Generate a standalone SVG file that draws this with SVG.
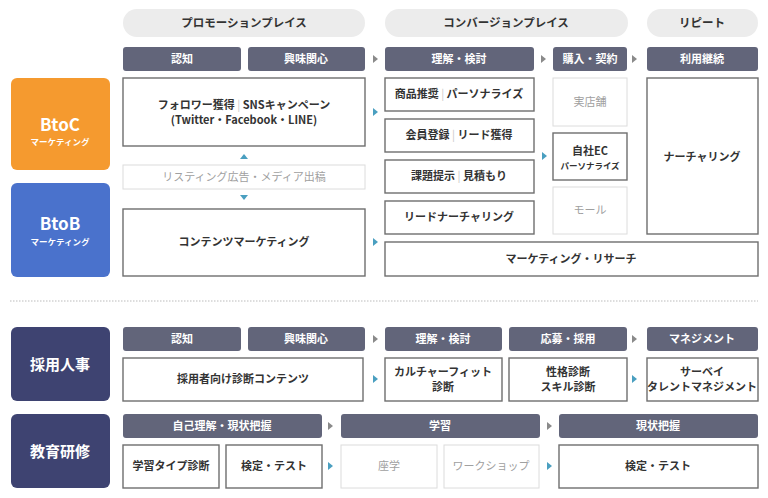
<svg xmlns="http://www.w3.org/2000/svg" width="768" height="498" viewBox="0 0 768 498">
<defs>
<style>
text{font-family:"Noto Sans CJK JP","Noto Sans",sans-serif;font-weight:bold;text-anchor:middle;}
.pill{fill:#ececec;}
.pt{font-size:11.5px;fill:#333;}
.hdr{fill:#62657a;}
.ht{font-size:11px;fill:#fff;}
.box{fill:#fff;stroke:#6e6e6e;stroke-width:1.4;}
.lbox{fill:#fff;stroke:#dcdcdc;stroke-width:1;}
.bt{font-size:11px;fill:#333;}
.st{font-size:8.5px;fill:#333;}
.lt{font-size:11px;fill:#a0a0a0;font-weight:normal;}
.sep{fill:#c8c8c8;font-weight:normal;}
.ga{fill:#8a8a8a;}
.ta{fill:#4a9fc0;}
.big{font-size:17px;fill:#fff;}
.sub{font-size:8.5px;fill:#fff;}
.side{font-size:15px;fill:#fff;}
</style>
</defs>
<rect width="768" height="498" fill="#fff"/>

<g id="phases">
<rect class="pill" x="123" y="9" width="242" height="28" rx="14"/>
<text class="pt" x="244" y="27">プロモーションプレイス</text>
<rect class="pill" x="385" y="9" width="243" height="28" rx="14"/>
<text class="pt" x="506" y="27">コンバージョンプレイス</text>
<rect class="pill" x="647" y="9" width="111" height="28" rx="14"/>
<text class="pt" x="702" y="27">リピート</text>
</g>

<g id="headers-top">
<rect class="hdr" x="123" y="47" width="118" height="24" rx="3"/><text class="ht" x="182" y="63">認知</text>
<rect class="hdr" x="248" y="47" width="117" height="24" rx="3"/><text class="ht" x="306" y="63">興味関心</text>
<rect class="hdr" x="385" y="47" width="149" height="24" rx="3"/><text class="ht" x="459" y="63">理解・検討</text>
<rect class="hdr" x="553" y="47" width="74" height="24" rx="3"/><text class="ht" x="590" y="63">購入・契約</text>
<rect class="hdr" x="647" y="47" width="111" height="24" rx="3"/><text class="ht" x="702" y="63">利用継続</text>
</g>

<g id="btoc">
<rect x="11" y="78" width="99" height="92" rx="6" fill="#f59a2f"/>
<text x="60" y="131" class="big">BtoC</text>
<text x="60" y="145" class="sub">マーケティング</text>
</g>
<g id="btob">
<rect x="11" y="183" width="99" height="94" rx="6" fill="#4a72cc"/>
<text x="60" y="230" class="big">BtoB</text>
<text x="60" y="245" class="sub">マーケティング</text>
</g>

<g id="follower">
<rect class="box" x="123" y="78" width="242" height="68"/>
<text class="bt" x="244" y="109">フォロワー獲得<tspan class="sep"> | </tspan>SNSキャンペーン</text>
<text class="bt" x="244" y="124">(Twitter・Facebook・LINE)</text>
</g>
<g id="listing">
<rect class="lbox" x="123" y="165" width="242" height="24"/>
<text class="lt" x="244" y="181">リスティング広告・メディア出稿</text>
</g>
<g id="content-mkt">
<rect class="box" x="123" y="209" width="242" height="67"/>
<text class="bt" x="244" y="246">コンテンツマーケティング</text>
</g>

<g id="n-suggest"><rect class="box" x="385" y="78" width="149" height="33"/><text class="bt" x="459" y="98">商品推奨<tspan class="sep"> | </tspan>パーソナライズ</text></g>
<g id="n-member"><rect class="box" x="385" y="119" width="149" height="33"/><text class="bt" x="459" y="139">会員登録<tspan class="sep"> | </tspan>リード獲得</text></g>
<g id="n-issue"><rect class="box" x="385" y="160" width="149" height="33"/><text class="bt" x="459" y="180">課題提示<tspan class="sep"> | </tspan>見積もり</text></g>
<g id="n-lead"><rect class="box" x="385" y="201" width="149" height="33"/><text class="bt" x="459" y="221">リードナーチャリング</text></g>
<g id="n-research"><rect class="box" x="385" y="242" width="373" height="34"/><text class="bt" x="571" y="263">マーケティング・リサーチ</text></g>

<g id="n-store"><rect class="lbox" x="553" y="78" width="74" height="48"/><text class="lt" x="590" y="106">実店舗</text></g>
<g id="n-ec"><rect class="box" x="553" y="133" width="74" height="47"/><text class="bt" x="590" y="155">自社EC</text><text class="st" x="590" y="169">パーソナライズ</text></g>
<g id="n-mall"><rect class="lbox" x="553" y="187" width="74" height="47"/><text class="lt" x="590" y="214">モール</text></g>
<g id="n-nurture"><rect class="box" x="647" y="78" width="111" height="156"/><text class="bt" x="702" y="161">ナーチャリング</text></g>

<line x1="10" y1="301" x2="758" y2="301" stroke="#bbb" stroke-width="1" stroke-dasharray="1.5 1.5"/>

<g id="hr">
<rect x="11" y="327" width="99" height="74" rx="6" fill="#3e4371"/>
<text x="60" y="370" class="side">採用人事</text>
</g>
<g id="headers-hr">
<rect class="hdr" x="123" y="327" width="118" height="24" rx="3"/><text class="ht" x="182" y="343">認知</text>
<rect class="hdr" x="248" y="327" width="117" height="24" rx="3"/><text class="ht" x="306" y="343">興味関心</text>
<rect class="hdr" x="385" y="327" width="117" height="24" rx="3"/><text class="ht" x="443" y="343">理解・検討</text>
<rect class="hdr" x="509" y="327" width="118" height="24" rx="3"/><text class="ht" x="568" y="343">応募・採用</text>
<rect class="hdr" x="647" y="327" width="111" height="24" rx="3"/><text class="ht" x="702" y="343">マネジメント</text>
</g>
<g id="n-hr1"><rect class="box" x="123" y="358" width="240" height="43"/><text class="bt" x="243" y="383">採用者向け診断コンテンツ</text></g>
<g id="n-hr2"><rect class="box" x="385" y="358" width="117" height="43"/><text class="bt" x="443" y="376">カルチャーフィット</text><text class="bt" x="443" y="391">診断</text></g>
<g id="n-hr3"><rect class="box" x="509" y="358" width="118" height="43"/><text class="bt" x="568" y="376">性格診断</text><text class="bt" x="568" y="391">スキル診断</text></g>
<g id="n-hr4"><rect class="box" x="647" y="358" width="111" height="43"/><text class="bt" x="702" y="376">サーベイ</text><text class="bt" x="702" y="391">タレントマネジメント</text></g>

<g id="edu">
<rect x="11" y="414" width="99" height="74" rx="6" fill="#3e4371"/>
<text x="60" y="457" class="side">教育研修</text>
</g>
<g id="headers-edu">
<rect class="hdr" x="123" y="414" width="199" height="24" rx="3"/><text class="ht" x="222" y="430">自己理解・現状把握</text>
<rect class="hdr" x="341" y="414" width="199" height="24" rx="3"/><text class="ht" x="440" y="430">学習</text>
<rect class="hdr" x="559" y="414" width="199" height="24" rx="3"/><text class="ht" x="658" y="430">現状把握</text>
</g>
<g id="n-edu1"><rect class="box" x="123" y="445" width="96" height="43"/><text class="bt" x="171" y="470">学習タイプ診断</text></g>
<g id="n-edu2"><rect class="box" x="226" y="445" width="96" height="43"/><text class="bt" x="274" y="470">検定・テスト</text></g>
<g id="n-edu3"><rect class="lbox" x="341" y="445" width="96" height="43"/><text class="lt" x="389" y="470">座学</text></g>
<g id="n-edu4"><rect class="lbox" x="444" y="445" width="95" height="43"/><text class="lt" x="491" y="470">ワークショップ</text></g>
<g id="n-edu5"><rect class="box" x="559" y="445" width="199" height="43"/><text class="bt" x="658" y="470">検定・テスト</text></g>

<g id="connectors">
<polygon class="ga" points="373,55 378,59 373,63"/>
<polygon class="ga" points="541,55 546,59 541,63"/>
<polygon class="ga" points="632,55 637,59 632,63"/>
<polygon class="ta" points="373,108 378,112 373,116"/>
<polygon class="ta" points="542,152 547,156 542,160"/>
<polygon class="ta" points="373,238 378,242 373,246"/>
<polygon class="ta" points="240,159 244,154 248,159"/>
<polygon class="ta" points="240,195 244,200 248,195"/>
<polygon class="ga" points="373,335 378,339 373,343"/>
<polygon class="ga" points="632,335 637,339 632,343"/>
<polygon class="ta" points="373,375 378,379 373,383"/>
<polygon class="ta" points="632,375 637,379 632,383"/>
<polygon class="ga" points="328,422 333,426 328,430"/>
<polygon class="ga" points="547,422 552,426 547,430"/>
<polygon class="ta" points="328,462 333,466 328,470"/>
<polygon class="ta" points="547,462 552,466 547,470"/>
</g>
</svg>
